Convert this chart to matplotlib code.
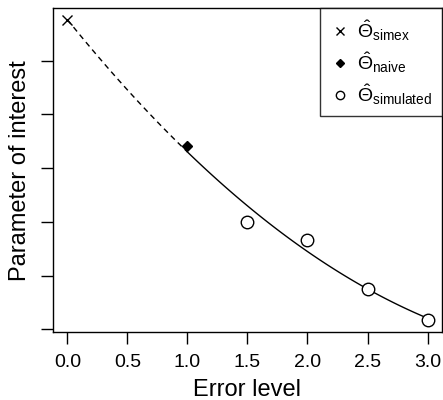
import numpy as np
import matplotlib.pyplot as plt
from matplotlib.lines import Line2D

plt.rcParams['font.family'] = ['Liberation Sans', 'DejaVu Sans']
plt.rcParams['mathtext.fontset'] = 'custom'
plt.rcParams['mathtext.rm'] = 'Liberation Sans'
plt.rcParams['mathtext.it'] = 'Liberation Sans:italic'

# SIMEX estimates (y axis has no labels, arbitrary units)
lambda_naive = 1.0
theta_naive = 3.41
lambda_sim = [1.5, 2.0, 2.5, 3.0]
theta_sim = [2.0, 1.67, 0.75, 0.17]
lambda_simex = 0.0
theta_simex = 5.75
x_ticks = [0.0, 0.5, 1.0, 1.5, 2.0, 2.5, 3.0]
y_ticks = [0, 1, 2, 3, 4, 5]

# quadratic extrapolation through naive + simulated estimates
coef = np.polyfit([lambda_naive] + lambda_sim, [theta_naive] + theta_sim, 2)
x_ext = np.linspace(lambda_simex, lambda_naive, 50)
x_fit = np.linspace(lambda_naive, max(lambda_sim), 100)

fig = plt.figure(figsize=(4.43, 4.0), dpi=100)
ax = fig.add_axes([0.1196, 0.17, 0.878, 0.809])

ax.plot(x_ext, np.polyval(coef, x_ext), color='black', lw=1, linestyle=(0, (4, 3)))
ax.plot(x_fit, np.polyval(coef, x_fit), color='black', lw=1)
ax.plot(lambda_sim, theta_sim, 'o', mfc='white', mec='black', ms=9, mew=1)
ax.plot([lambda_naive], [theta_naive], 'D', color='black', ms=5.5)
ax.plot([lambda_simex], [theta_simex], 'x', color='black', ms=7, mew=1)

ax.set_xlim(-0.12, 3.12)
ax.set_ylim(-0.05, 5.97)
ax.set_xticks(x_ticks)
ax.set_xticklabels(['%.1f' % v for v in x_ticks], fontsize=14)
ax.set_yticks(y_ticks)
ax.set_yticklabels([])
ax.tick_params(direction='out', length=8.5, width=1, pad=7)
for s in ax.spines.values():
    s.set_linewidth(1)

ax.set_xlabel('Error level', fontsize=17, labelpad=6)
ax.set_ylabel('Parameter of interest', fontsize=17, labelpad=0)

handles = [
    Line2D([], [], marker='x', color='black', ls='none', ms=6, mew=1),
    Line2D([], [], marker='D', color='black', ls='none', ms=4),
    Line2D([], [], marker='o', mfc='white', mec='black', ls='none', ms=6, mew=1),
]
labels = [r'$\hat{\Theta}_{\mathrm{simex}}$',
          r'$\hat{\Theta}_{\mathrm{naive}}$',
          r'$\hat{\Theta}_{\mathrm{simulated}}$']
leg = ax.legend(handles, labels, loc='upper right', fontsize=14, frameon=True,
                fancybox=False, borderaxespad=0, handlelength=1.0,
                labelspacing=0.35, borderpad=0.5, handletextpad=0.4)
leg.get_frame().set_edgecolor('black')
leg.get_frame().set_linewidth(1)

fig.savefig('out.png', dpi=100)
